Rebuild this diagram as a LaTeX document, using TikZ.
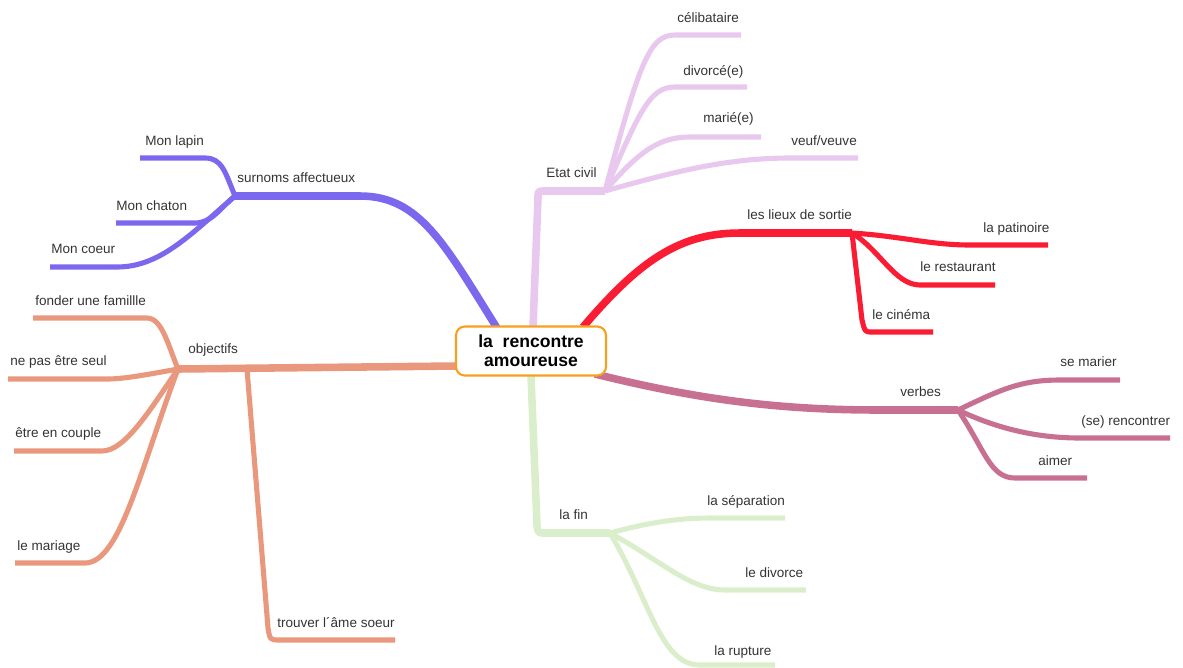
\documentclass[tikz,border=0pt]{standalone}
\usepackage{fontspec}
\setmainfont{Liberation Sans}
\definecolor{cpurple}{RGB}{123,104,238}
\definecolor{csalmon}{RGB}{233,152,126}
\definecolor{clilac}{RGB}{232,200,238}
\definecolor{cred}{RGB}{250,28,50}
\definecolor{cmauve}{RGB}{200,112,146}
\definecolor{cgreen}{RGB}{218,238,204}
\definecolor{corange}{RGB}{247,160,30}
\definecolor{ctext}{RGB}{51,51,51}
\begin{document}
\begin{tikzpicture}[x=0.02cm,y=-0.02cm,line join=round,
mainbr/.style={line width=4.3pt},
subbr/.style={line width=2.9pt},
lbl/.style={inner sep=0pt,anchor=base west,text=ctext,font=\fontsize{7.7}{9}\selectfont},
rootbox/.style={draw=corange,line width=1.2pt,fill=white,rounded corners=5pt,align=center,
  minimum width=3cm,minimum height=0.98cm,inner sep=2pt,font=\fontsize{10}{11}\selectfont\bfseries}]
\useasboundingbox (0,0) rectangle (1183,667);
% surnoms affectueux
\coordinate (rsur) at (497,328);
\coordinate (hsur) at (235,196);
\coordinate (elapin) at (140,158);
\coordinate (echaton) at (116,223);
\coordinate (ecoeur) at (50,267);
\draw[mainbr,cpurple] (rsur) .. controls (445,245) and (420,196) .. (360,196) -- (hsur);
\draw[subbr,cpurple] (hsur) .. controls (225,172) and (222,158) .. (205,158) -- (elapin);
\draw[subbr,cpurple] (hsur) .. controls (220,208) and (212,223) .. (195,223) -- (echaton);
\draw[subbr,cpurple] (hsur) .. controls (190,235) and (160,267) .. (117,267) -- (ecoeur);
\node[lbl] (sur) at (237,182) {surnoms affectueux};
\node[lbl] (lapin) at (145,145) {Mon lapin};
\node[lbl] (chaton) at (116,210) {Mon chaton};
\node[lbl] (coeur) at (51,253) {Mon coeur};
% objectifs
\coordinate (robj) at (456,366);
\coordinate (hobj) at (178,369);
\coordinate (sobj) at (247,369);
\coordinate (efam) at (33,318);
\coordinate (eseul) at (8,379);
\coordinate (ecouple) at (14,451);
\coordinate (emar) at (15,563);
\coordinate (eame) at (395,640);
\draw[mainbr,csalmon] (robj) -- (hobj);
\draw[subbr,csalmon] (hobj) .. controls (168,345) and (162,318) .. (147,318) -- (efam);
\draw[subbr,csalmon] (hobj) .. controls (150,374) and (125,379) .. (107,379) -- (eseul);
\draw[subbr,csalmon] (hobj) .. controls (150,410) and (125,451) .. (102,451) -- (ecouple);
\draw[subbr,csalmon] (hobj) .. controls (140,470) and (120,563) .. (85,563) -- (emar);
\draw[subbr,csalmon] (sobj) -- (268,628) .. controls (270,640) .. (280,640) -- (eame);
\node[lbl] (obj) at (188,353) {objectifs};
\node[lbl] (fam) at (35,305) {fonder une famillle};
\node[lbl] (seul) at (10,365) {ne pas être seul};
\node[lbl] (couple) at (15,437) {être en couple};
\node[lbl] (mar) at (17,550) {le mariage};
\node[lbl] (ame) at (277,627) {trouver l´âme soeur};
% Etat civil
\coordinate (retat) at (533,327);
\coordinate (hetat) at (605,191);
\coordinate (ecel) at (741,35);
\coordinate (ediv) at (747,87);
\coordinate (emarie) at (761,137);
\coordinate (eveuf) at (858,158);
\draw[mainbr,clilac] (retat) -- (538,198) .. controls (538,191) .. (545,191) -- (hetat);
\draw[subbr,clilac] (hetat) .. controls (640,60) and (650,35) .. (675,35) -- (ecel);
\draw[subbr,clilac] (hetat) .. controls (640,110) and (650,87) .. (675,87) -- (ediv);
\draw[subbr,clilac] (hetat) .. controls (640,150) and (660,137) .. (690,137) -- (emarie);
\draw[subbr,clilac] (hetat) .. controls (680,170) and (730,158) .. (790,158) -- (eveuf);
\node[lbl] (etat) at (546,177) {Etat civil};
\node[lbl] (cel) at (677,22) {célibataire};
\node[lbl] (div) at (683,75) {divorcé(e)};
\node[lbl] (marie) at (703,122) {marié(e)};
\node[lbl] (veuf) at (791,145) {veuf/veuve};
% les lieux de sortie
\coordinate (rlieux) at (583,327);
\coordinate (hlieux) at (852,233);
\coordinate (epat) at (1048,245);
\coordinate (eresto) at (995,285);
\coordinate (ecine) at (933,332);
\draw[mainbr,cred] (rlieux) .. controls (640,260) and (680,233) .. (740,233) -- (hlieux);
\draw[subbr,cred] (hlieux) .. controls (900,236) and (930,245) .. (970,245) -- (epat);
\draw[subbr,cred] (hlieux) .. controls (880,250) and (895,285) .. (920,285) -- (eresto);
\draw[subbr,cred] (hlieux) -- (862,320) .. controls (865,332) .. (872,332) -- (ecine);
\node[lbl] (lieux) at (747,219) {les lieux de sortie};
\node[lbl] (pat) at (983,232) {la patinoire};
\node[lbl] (resto) at (920,271) {le restaurant};
\node[lbl] (cine) at (872,319) {le cinéma};
% verbes
\coordinate (rverb) at (595,374);
\coordinate (hverb) at (958,410);
\coordinate (emarier) at (1120,380);
\coordinate (erenc) at (1170,438);
\coordinate (eaimer) at (1087,478);
\draw[mainbr,cmauve] (rverb) .. controls (700,400) and (780,410) .. (880,410) -- (hverb);
\draw[subbr,cmauve] (hverb) .. controls (1000,390) and (1020,380) .. (1060,380) -- (emarier);
\draw[subbr,cmauve] (hverb) .. controls (1000,430) and (1040,438) .. (1080,438) -- (erenc);
\draw[subbr,cmauve] (hverb) .. controls (985,450) and (990,478) .. (1015,478) -- (eaimer);
\node[lbl] (verb) at (900,396) {verbes};
\node[lbl] (marier) at (1060,366) {se marier};
\node[lbl] (renc) at (1081,425) {(se) rencontrer};
\node[lbl] (aimer) at (1038,465) {aimer};
% la fin
\coordinate (rfin) at (531,376);
\coordinate (hfin) at (610,533);
\coordinate (esep) at (785,518);
\coordinate (edivo) at (806,590);
\coordinate (erup) at (775,665);
\draw[mainbr,cgreen] (rfin) -- (537,525) .. controls (538,533) .. (545,533) -- (hfin);
\draw[subbr,cgreen] (hfin) .. controls (650,522) and (680,518) .. (710,518) -- (esep);
\draw[subbr,cgreen] (hfin) .. controls (660,560) and (690,590) .. (725,590) -- (edivo);
\draw[subbr,cgreen] (hfin) .. controls (650,600) and (660,665) .. (700,665) -- (erup);
\node[lbl] (fin) at (559,519) {la fin};
\node[lbl] (sep) at (707,505) {la séparation};
\node[lbl] (divo) at (745,577) {le divorce};
\node[lbl] (rup) at (714,655) {la rupture};
% centre
\node[rootbox] (root) at (531,351) {la\ \ rencontre\\amoureuse};
\end{tikzpicture}
\end{document}
